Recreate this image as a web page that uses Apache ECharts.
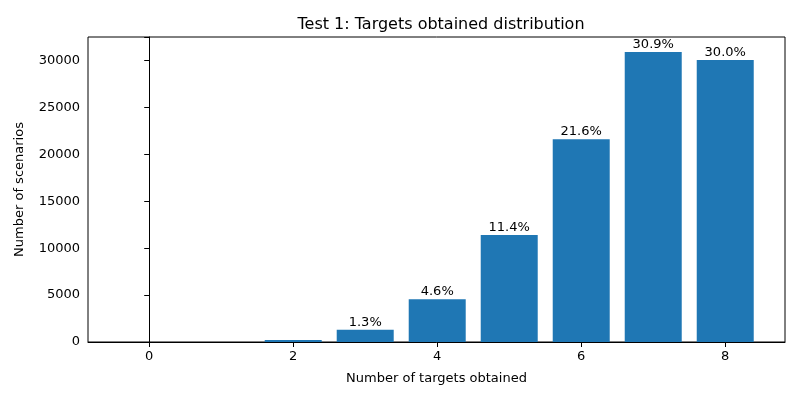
<!DOCTYPE html>
<html>
<head>
<meta charset="utf-8">
<script src="https://cdn.jsdelivr.net/npm/echarts@6/dist/echarts.min.js"></script>
<style>html,body{margin:0;padding:0;background:#fff}#chart{width:800px;height:400px}</style>
</head>
<body>
<div id="chart"></div>
<script>
var categories = [0, 1, 2, 3, 4, 5, 6, 7, 8];
var counts = [0, 0, 200, 1300, 4560, 11400, 21600, 30900, 30050];
var percentLabels = ['', '', '', '1.3%', '4.6%', '11.4%', '21.6%', '30.9%', '30.0%'];
var xTicks = [0, 2, 4, 6, 8];

var myChart = echarts.init(document.getElementById('chart'), null, { renderer: 'canvas' });
var font = 'DejaVu Sans, sans-serif';

var barData = categories.map(function (c, i) { return [c, counts[i]]; });

var option = {
    animation: false,
    title: {
        text: 'Test 1: Targets obtained distribution',
        left: 436, top: 12, textAlign: 'center',
        textStyle: { fontFamily: font, fontSize: 16, fontWeight: 'normal', color: '#000' }
    },
    grid: { left: 88, right: 15, top: 37, bottom: 58, show: true, borderColor: '#000', borderWidth: 1 },
    xAxis: {
        type: 'value', min: -0.85, max: 8.83,
        name: 'Number of targets obtained',
        nameLocation: 'middle', nameGap: 30,
        nameTextStyle: { fontFamily: font, fontSize: 13, color: '#000' },
        axisLine: { lineStyle: { color: '#000' } },
        axisTick: { customValues: xTicks, lineStyle: { color: '#000' } },
        axisLabel: { customValues: xTicks, fontFamily: font, fontSize: 13, color: '#000' },
        splitLine: { show: false }
    },
    yAxis: {
        type: 'value', min: 0, max: 32500, interval: 5000,
        name: 'Number of scenarios',
        nameLocation: 'middle', nameGap: 62,
        nameTextStyle: { fontFamily: font, fontSize: 13, color: '#000' },
        axisLine: { show: true, lineStyle: { color: '#000' } },
        axisTick: { show: true, lineStyle: { color: '#000' } },
        axisLabel: {
            fontFamily: font, fontSize: 13, color: '#000',
            formatter: function (v) { return v > 30000 ? '' : v; }
        },
        splitLine: { show: false }
    },
    series: [{
        type: 'bar',
        barWidth: 57,
        itemStyle: { color: '#1f77b4' },
        data: barData,
        label: {
            show: true, position: 'top', distance: 1,
            fontFamily: font, fontSize: 13, color: '#000',
            formatter: function (p) { return percentLabels[p.dataIndex]; }
        }
    }]
};

myChart.setOption(option);
</script>
</body>
</html>
